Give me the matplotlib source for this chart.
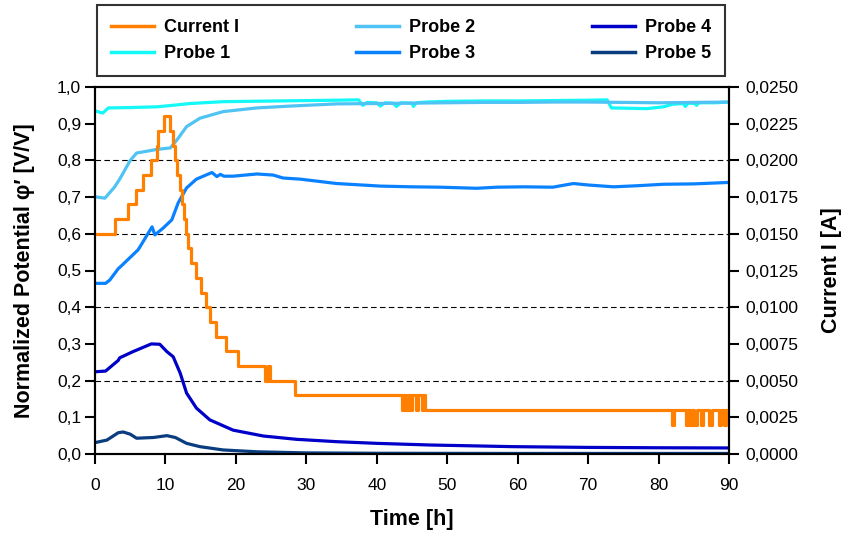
import matplotlib
matplotlib.use("Agg")
import matplotlib.pyplot as plt
from matplotlib.ticker import FuncFormatter, MultipleLocator

plt.rcParams['font.family'] = ['Liberation Sans', 'DejaVu Sans']

# ---- data ----
cur_t = [0, 2.8, 4.7, 5.8, 6.8, 8.0, 8.8, 9.0, 9.8, 10.6, 11.1, 11.4, 11.7, 12.0, 12.3, 12.6,
         12.9, 13.2, 13.6, 14.3, 15.1, 15.8, 16.3, 17.2, 18.6, 20.3, 24.1, 24.5, 24.8, 28.4,
         43.6, 43.9, 44.1, 44.4, 44.7, 45.0, 45.6, 45.8, 46.4, 46.6, 46.9,
         81.9, 82.2, 83.9, 84.2, 84.5, 84.8, 85.1, 85.4, 86.0, 86.3, 87.2, 87.6, 88.6, 88.9, 89.3, 89.6, 90.0]
cur_v = [0.015, 0.016, 0.017, 0.018, 0.019, 0.020, 0.021, 0.022, 0.023, 0.022, 0.021, 0.020, 0.019,
         0.018, 0.017, 0.016, 0.015, 0.014, 0.013, 0.012, 0.011, 0.010, 0.009, 0.008, 0.007, 0.006,
         0.005, 0.006, 0.005, 0.004,
         0.003, 0.004, 0.003, 0.004, 0.003, 0.004, 0.003, 0.004, 0.003, 0.004, 0.003,
         0.002, 0.003, 0.002, 0.003, 0.002, 0.003, 0.002, 0.003, 0.002, 0.003, 0.002, 0.003, 0.002,
         0.003, 0.002, 0.003, 0.003]

p1_t = [0, 1.1, 1.9, 5, 8.8, 11, 13.5, 18.2, 22, 26, 30, 34.3, 37.4, 38.0, 38.6, 40.0, 40.5, 41.2,
        42.3, 42.8, 43.4, 45.0, 45.2, 45.6, 47, 50, 55, 60, 65, 70, 72.7, 73.3, 76, 78.3, 80.7, 82,
        83.5, 83.8, 84.2, 85.2, 85.4, 85.7, 88, 90]
p1_v = [0.935, 0.929, 0.943, 0.944, 0.946, 0.950, 0.955, 0.960, 0.961, 0.962, 0.963, 0.964, 0.965,
        0.950, 0.958, 0.957, 0.948, 0.957, 0.956, 0.947, 0.957, 0.956, 0.947, 0.957, 0.959, 0.961,
        0.962, 0.962, 0.963, 0.964, 0.965, 0.943, 0.942, 0.941, 0.946, 0.953, 0.955, 0.947, 0.956,
        0.955, 0.950, 0.957, 0.957, 0.959]

p2_t = [0, 1.4, 2.8, 3.6, 5, 5.9, 8.8, 10.7, 11.6, 13, 14.9, 18.2, 23, 27.7, 34.3, 40, 45, 50, 55,
        60, 65, 70, 75, 80, 85, 90]
p2_v = [0.701, 0.697, 0.728, 0.752, 0.800, 0.820, 0.830, 0.834, 0.855, 0.892, 0.915, 0.933, 0.943,
        0.948, 0.954, 0.955, 0.956, 0.957, 0.958, 0.958, 0.959, 0.959, 0.958, 0.957, 0.958, 0.959]

p3_t = [0, 1.5, 2.1, 3.3, 3.6, 6.1, 6.4, 8.1, 8.5, 9.7, 10.9, 11.8, 13, 14.4, 16.6, 17.3, 17.8,
        18.3, 19.6, 23, 25.3, 26.7, 29.1, 34.3, 40.5, 45, 49, 54.2, 57, 60.8, 65, 67.9, 70, 73.6,
        77, 80.7, 85, 90]
p3_v = [0.465, 0.465, 0.474, 0.505, 0.510, 0.556, 0.565, 0.619, 0.597, 0.616, 0.638, 0.684, 0.725,
        0.749, 0.767, 0.756, 0.762, 0.757, 0.757, 0.763, 0.760, 0.752, 0.749, 0.737, 0.730, 0.728,
        0.727, 0.724, 0.727, 0.728, 0.727, 0.737, 0.733, 0.728, 0.731, 0.735, 0.736, 0.740]

p4_t = [0, 1.5, 3.3, 3.5, 5.4, 8, 9.2, 10.2, 11.1, 12.1, 13, 14.4, 16.3, 19.6, 23.9, 28.6, 34.3,
        40, 47.6, 59.4, 70, 80, 90]
p4_v = [0.224, 0.226, 0.255, 0.262, 0.279, 0.300, 0.299, 0.279, 0.265, 0.220, 0.166, 0.125, 0.093,
        0.065, 0.049, 0.040, 0.0336, 0.029, 0.0245, 0.020, 0.018, 0.017, 0.0165]

p5_t = [0, 1.7, 3.3, 4.0, 5.0, 5.9, 8.3, 10.2, 11.4, 13, 14.9, 18.2, 23, 30, 40, 60, 90]
p5_v = [0.031, 0.038, 0.058, 0.060, 0.054, 0.043, 0.045, 0.050, 0.045, 0.029, 0.020, 0.011, 0.006,
        0.003, 0.002, 0.0015, 0.0015]

labels = ["Current I", "Probe 1", "Probe 2", "Probe 3", "Probe 4", "Probe 5"]
colors = ["#FF8000", "#14F8F8", "#50C3F5", "#0A82FF", "#0000C8", "#0A3C80"]

# ---- figure ----
fig = plt.figure(figsize=(8.42, 5.33), dpi=100)
ax = fig.add_axes([95 / 842, 1 - 454 / 533, (729 - 95) / 842, (454 - 87) / 533])
ax2 = ax.twinx()

lw = 2.3
h1, = ax.plot(p1_t, p1_v, color=colors[1], lw=lw)
h2, = ax.plot(p2_t, p2_v, color=colors[2], lw=lw)
h3, = ax.plot(p3_t, p3_v, color=colors[3], lw=lw)
h4, = ax.plot(p4_t, p4_v, color=colors[4], lw=lw)
h5, = ax.plot(p5_t, p5_v, color=colors[5], lw=lw)
hc, = ax2.plot(cur_t, cur_v, color=colors[0], lw=lw, drawstyle='steps-post')

for y in [0.2, 0.4, 0.6, 0.8]:
    ax.axhline(y, color='black', lw=0.8, ls=(0, (5, 3)), zorder=0.5)

ax.set_xlim(0, 90)
ax.set_ylim(0, 1.0)
ax2.set_ylim(0, 0.025)
ax.xaxis.set_major_locator(MultipleLocator(10))
ax.yaxis.set_major_locator(MultipleLocator(0.1))
ax2.yaxis.set_major_locator(MultipleLocator(0.0025))
ax.yaxis.set_major_formatter(FuncFormatter(lambda v, p: f"{v:.1f}".replace('.', ',')))
ax2.yaxis.set_major_formatter(FuncFormatter(lambda v, p: f"{v:.4f}".replace('.', ',')))

for a in (ax, ax2):
    for s in a.spines.values():
        s.set_linewidth(1.5)
        s.set_color('black')
    a.tick_params(direction='out', length=7, width=1.5, labelsize=12.5, colors='black')
ax.tick_params(axis='x', pad=10)
ax.tick_params(axis='y', pad=3)
ax2.tick_params(axis='y', pad=5)

ax.set_xlabel("Time [h]", fontsize=15.5, fontweight='bold', labelpad=12)
ax.set_ylabel("Normalized Potential \u03c6\u2032 [V/V]", fontsize=15.5, fontweight='bold', labelpad=16)
ax2.set_ylabel("Current I [A]", fontsize=15.5, fontweight='bold', labelpad=16)

handles = [hc, h1, h2, h3, h4, h5]
leg = fig.legend(handles, labels, loc='upper left', ncol=3, mode='expand',
                 bbox_to_anchor=(97 / 842, 1 - 74 / 533, (725 - 97) / 842, (74 - 5) / 533),
                 frameon=True, fancybox=False, borderaxespad=0, handlelength=2.4,
                 handletextpad=0.55, prop={'weight': 'bold', 'size': 13}, borderpad=0.78,
                 labelspacing=0.5)
leg.get_frame().set_edgecolor('black')
leg.get_frame().set_linewidth(1.5)
for l in leg.get_lines():
    l.set_linewidth(2.5)

fig.savefig("out.png", dpi=100)
